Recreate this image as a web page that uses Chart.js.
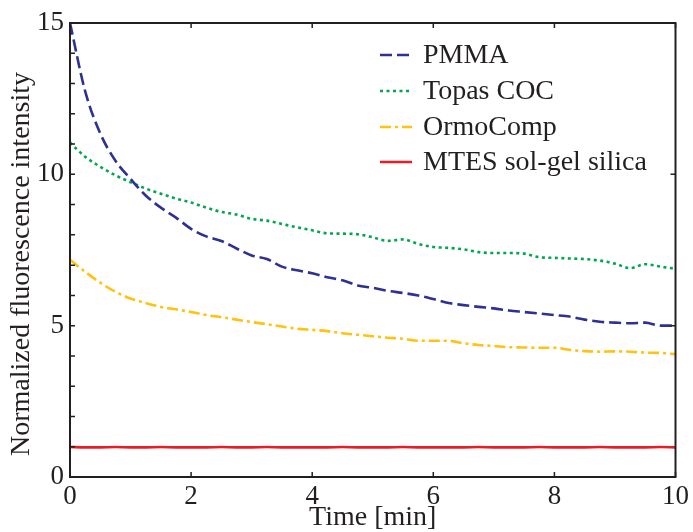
<!DOCTYPE html>
<html>
<head>
<meta charset="utf-8">
<script src="https://cdn.jsdelivr.net/npm/chart.js@4.4.1/dist/chart.umd.min.js"></script>
<style>
  html, body { margin: 0; padding: 0; background: #fff; }
  #wrap { width: 693px; height: 532px; }
</style>
</head>
<body>
<div id="wrap"><canvas id="chart" width="693" height="532"></canvas></div>
<script>
// Time axis (min), sampled every 15 s
const times = [0, 0.25, 0.5, 0.75, 1, 1.25, 1.5, 1.75, 2, 2.25, 2.5, 2.75, 3, 3.25, 3.5, 3.75, 4, 4.25, 4.5, 4.75, 5,
  5.25, 5.5, 5.75, 6, 6.25, 6.5, 6.75, 7, 7.25, 7.5, 7.75, 8, 8.25, 8.5, 8.75, 9, 9.25, 9.5, 9.75, 10];

const pmma = [15.0, 12.75, 11.35, 10.45, 9.85, 9.3, 8.9, 8.57, 8.2, 7.95, 7.8, 7.55, 7.32, 7.2, 6.95, 6.83, 6.73,
  6.6, 6.5, 6.33, 6.25, 6.15, 6.08, 6.0, 5.88, 5.75, 5.68, 5.62, 5.57, 5.5, 5.45, 5.4, 5.35, 5.3, 5.2, 5.13,
  5.1, 5.08, 5.1, 5.0, 5.0];

const topas = [11.05, 10.58, 10.25, 9.97, 9.74, 9.53, 9.36, 9.2, 9.07, 8.9, 8.76, 8.67, 8.53, 8.47, 8.36, 8.25,
  8.15, 8.05, 8.04, 8.02, 7.92, 7.8, 7.85, 7.7, 7.6, 7.57, 7.52, 7.43, 7.4, 7.4, 7.38, 7.26, 7.24, 7.22, 7.2,
  7.15, 7.05, 6.9, 7.03, 6.95, 6.88];

const ormo = [7.18, 6.78, 6.42, 6.12, 5.9, 5.75, 5.62, 5.54, 5.45, 5.35, 5.28, 5.2, 5.12, 5.05, 4.97, 4.9, 4.86,
  4.82, 4.75, 4.7, 4.65, 4.6, 4.57, 4.5, 4.5, 4.5, 4.42, 4.36, 4.33, 4.29, 4.28, 4.27, 4.27, 4.2, 4.16, 4.14,
  4.15, 4.14, 4.11, 4.1, 4.06];

const mtes = [0.99, 0.98, 0.98, 0.99, 0.98, 0.98, 0.99, 0.98, 0.98, 0.98, 0.99, 0.98, 0.98, 0.99, 0.98, 0.98,
  0.98, 0.98, 0.99, 0.98, 0.98, 0.98, 0.99, 0.98, 0.98, 0.98, 0.98, 0.99, 0.98, 0.98, 0.98, 0.99, 0.98, 0.98,
  0.98, 0.99, 0.98, 0.98, 0.98, 0.99, 0.98];

const seriesNames = ["PMMA", "Topas COC", "OrmoComp", "MTES sol-gel silica"];
const seriesColors = ["#2e3192", "#00a651", "#ffc20e", "#ed1c24"];
const seriesDashes = [[12, 5], [3, 3.5], [11, 4, 3, 4], []];

const xTicks = [0, 2, 4, 6, 8, 10];
const yTicks = [0, 5, 10, 15];

const serif = "'Liberation Serif', 'DejaVu Serif', serif";
const ink = "#231f20";

const toPoints = (vals) => vals.map((v, i) => ({ x: times[i], y: v }));

// Frame, inward ticks, y title and in-plot legend
const framePlugin = {
  id: "frame",
  afterDraw(chart) {
    const { ctx, chartArea: a, scales } = chart;
    const xs = scales.x, ys = scales.y;
    ctx.save();
    ctx.strokeStyle = ink;
    ctx.lineWidth = 2;
    ctx.strokeRect(a.left, a.top, a.right - a.left, a.bottom - a.top);

    ctx.lineWidth = 1.5;
    ctx.beginPath();
    xTicks.forEach((t) => {
      const px = xs.getPixelForValue(t);
      ctx.moveTo(px, a.bottom); ctx.lineTo(px, a.bottom - 5);
      ctx.moveTo(px, a.top); ctx.lineTo(px, a.top + 5);
    });
    for (let v = 0; v <= 15; v++) {
      const py = ys.getPixelForValue(v);
      ctx.moveTo(a.left, py); ctx.lineTo(a.left + 5, py);
      if (yTicks.includes(v)) {
        ctx.moveTo(a.right, py); ctx.lineTo(a.right - 5, py);
      }
    }
    ctx.stroke();

    // y axis title
    ctx.fillStyle = ink;
    ctx.font = "28px " + serif;
    ctx.textAlign = "center";
    ctx.textBaseline = "middle";
    ctx.translate(22, 264);
    ctx.rotate(-Math.PI / 2);
    ctx.fillText("Normalized fluorescence intensity", 0, 0);
    ctx.setTransform(1, 0, 0, 1, 0, 0);

    // legend
    const lx0 = 380, lx1 = 412, tx = 423;
    const rows = [55, 91, 127, 162];
    ctx.textAlign = "left";
    seriesNames.forEach((name, i) => {
      ctx.strokeStyle = seriesColors[i];
      ctx.lineWidth = 2.5;
      ctx.setLineDash(seriesDashes[i]);
      ctx.beginPath();
      ctx.moveTo(lx0, rows[i]); ctx.lineTo(lx1, rows[i]);
      ctx.stroke();
      ctx.setLineDash([]);
      ctx.fillText(name, tx, rows[i] + 1);
    });
    ctx.restore();
  },
};

function initChart() {
  const sets = [pmma, topas, ormo, mtes];
  new Chart(document.getElementById("chart"), {
    type: "line",
    data: {
      datasets: sets.map((vals, i) => ({
        label: seriesNames[i],
        data: toPoints(vals),
        borderColor: seriesColors[i],
        borderWidth: 2.6,
        borderDash: seriesDashes[i],
        pointRadius: 0,
        cubicInterpolationMode: "monotone",
        fill: false,
      })),
    },
    options: {
      responsive: false,
      animation: false,
      devicePixelRatio: 1,
      layout: { padding: { top: 23, right: 17, left: 0, bottom: 0 } },
      plugins: { legend: { display: false }, tooltip: { enabled: false } },
      scales: {
        x: {
          type: "linear",
          min: 0,
          max: 10,
          afterFit: (s) => { s.height = 55; },
          afterBuildTicks: (s) => { s.ticks = xTicks.map((v) => ({ value: v })); },
          grid: { display: false, drawTicks: false },
          border: { display: false },
          ticks: { color: ink, font: { family: serif, size: 27 }, padding: 4, maxRotation: 0 },
          title: {
            display: true,
            text: "Time [min]",
            color: ink,
            font: { family: serif, size: 28, lineHeight: 1 },
            padding: { top: 0, bottom: 0 },
          },
        },
        y: {
          type: "linear",
          min: 0,
          max: 15,
          afterFit: (s) => { s.width = 70; },
          afterBuildTicks: (s) => { s.ticks = yTicks.map((v) => ({ value: v })); },
          grid: { display: false, drawTicks: false },
          border: { display: false },
          ticks: { color: ink, font: { family: serif, size: 27 }, padding: 6 },
        },
      },
    },
    plugins: [framePlugin],
  });
}

window.addEventListener("DOMContentLoaded", initChart);
</script>
</body>
</html>
